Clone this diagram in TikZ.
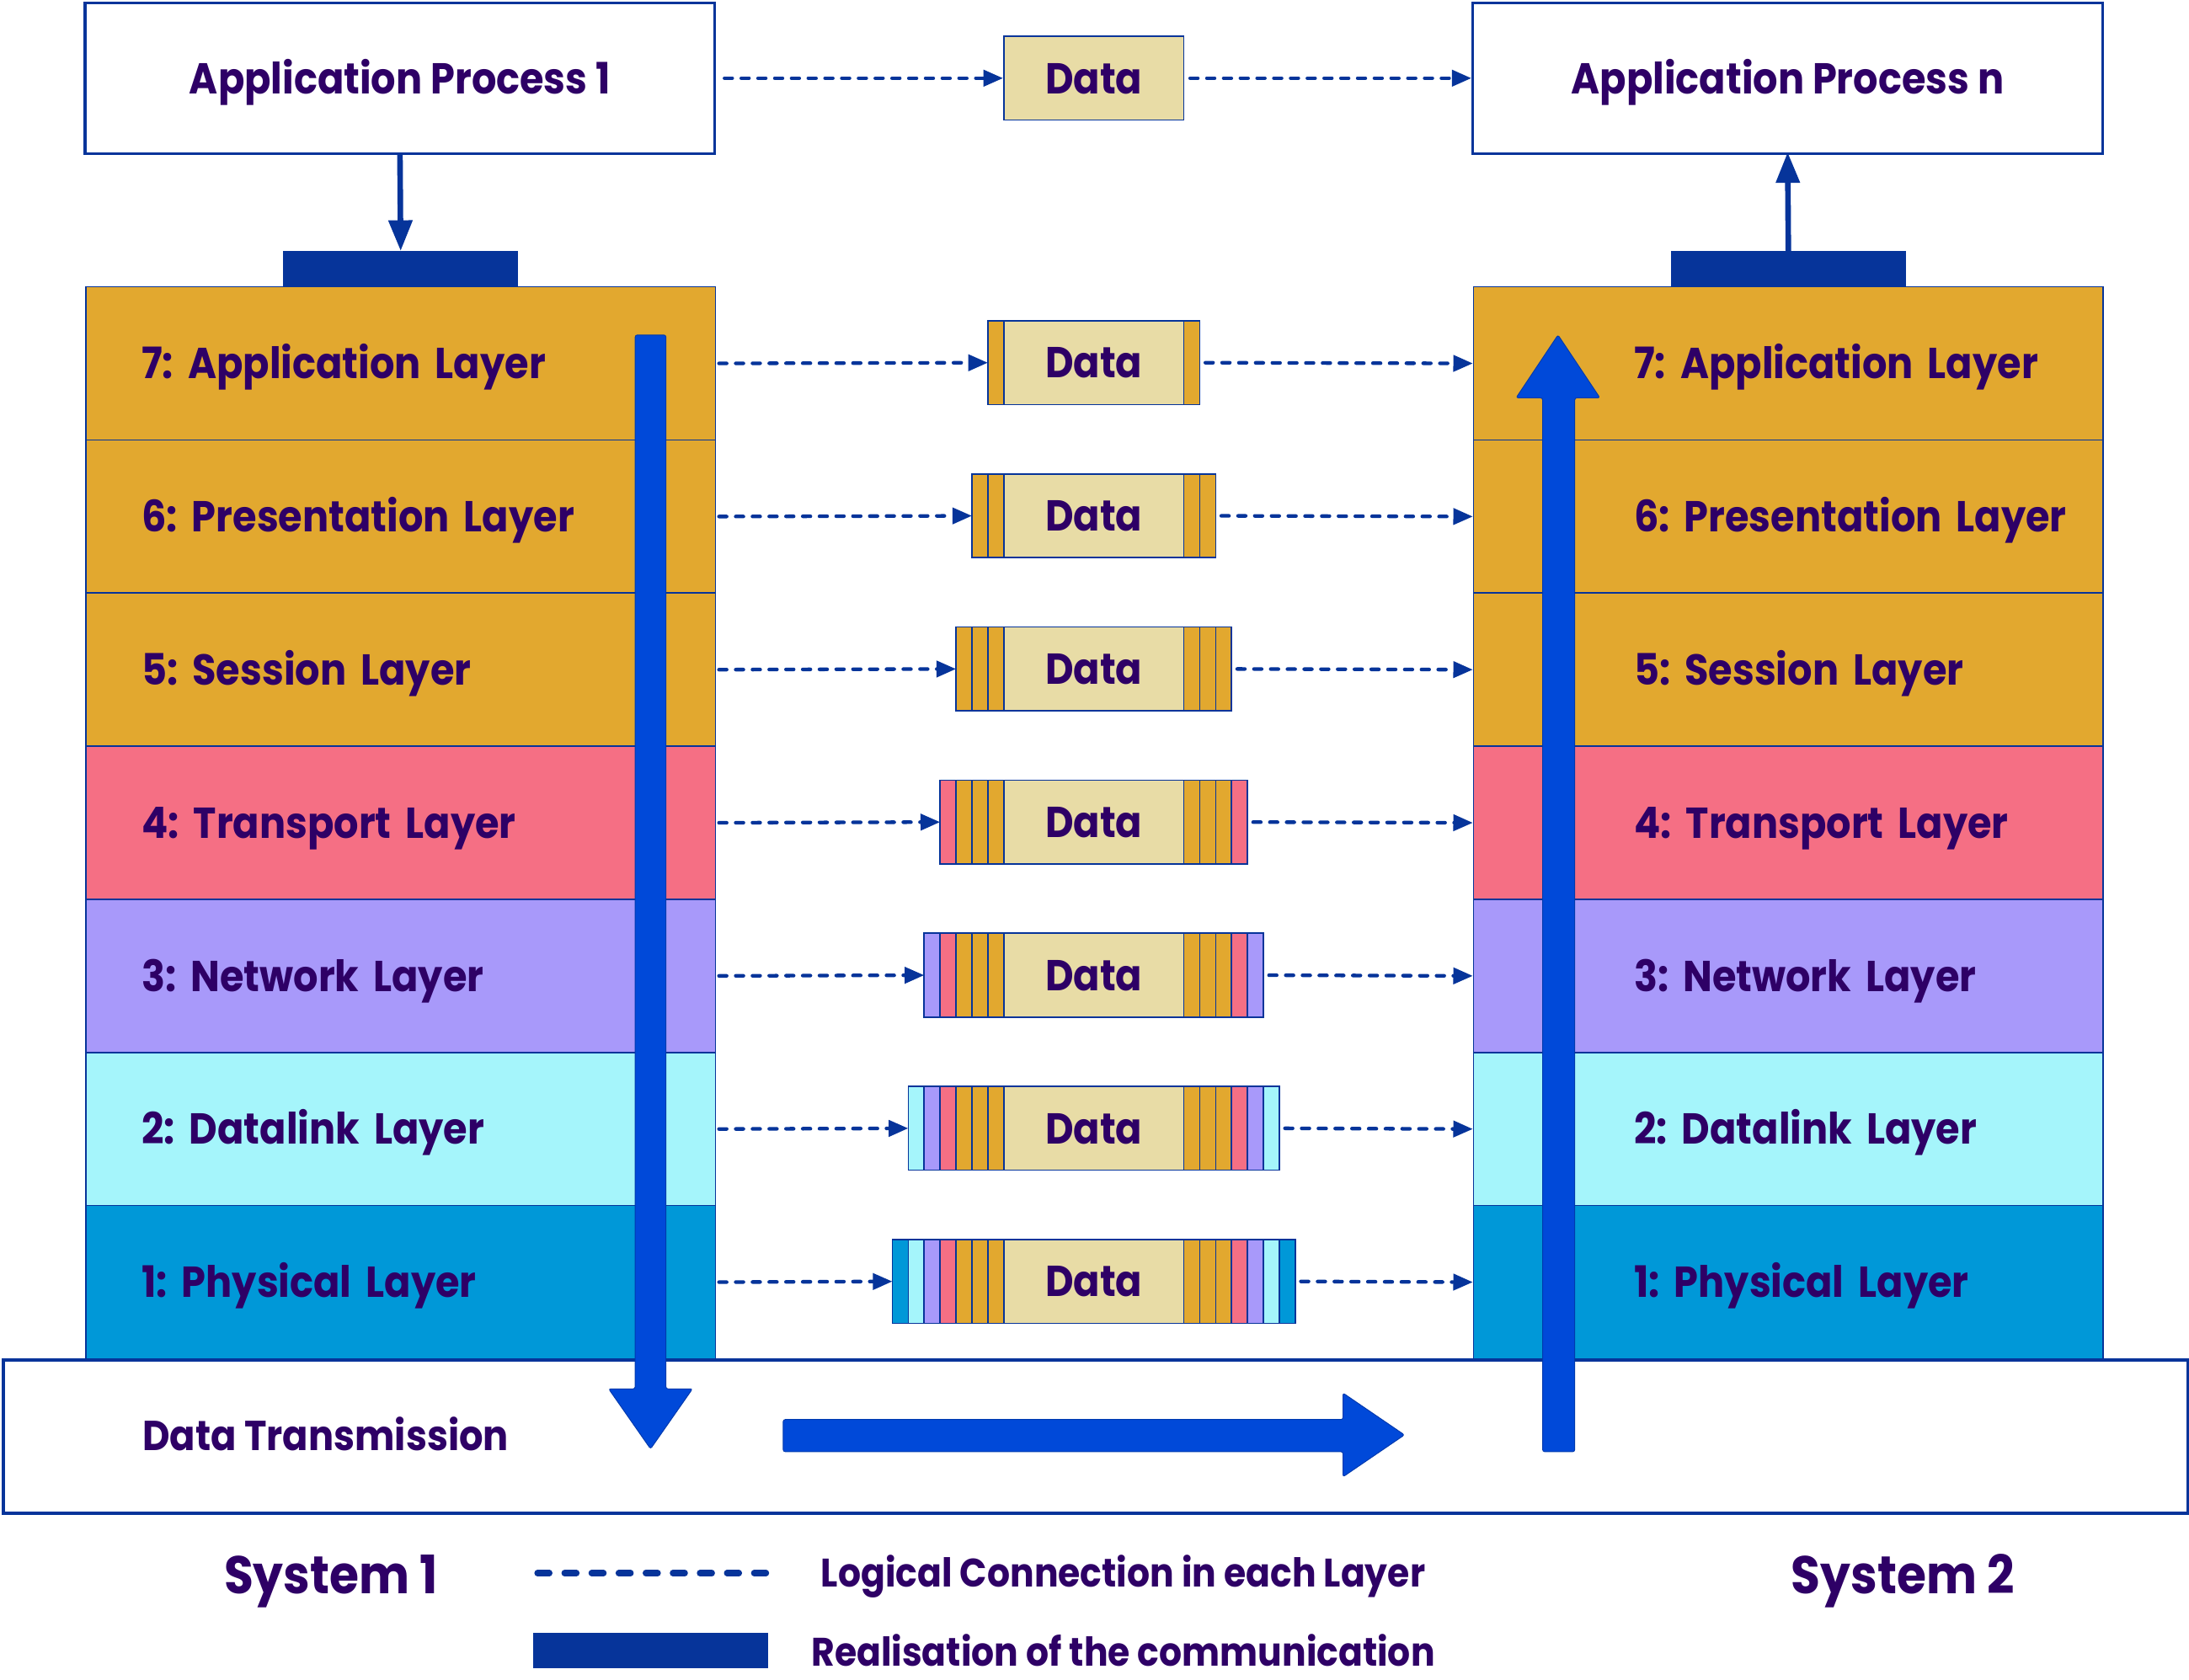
\documentclass[tikz,border=0pt]{standalone}
\usepackage{fontspec}
\setmainfont{Poppins}[FakeStretch=0.9]
\usetikzlibrary{arrows.meta}
\definecolor{lblue}{HTML}{06349A}
\definecolor{txt}{HTML}{2E0066}
\definecolor{orl}{HTML}{E2A82F}
\definecolor{pnk}{HTML}{F56F84}
\definecolor{lav}{HTML}{A899FA}
\definecolor{cyn}{HTML}{A5F5FB}
\definecolor{phy}{HTML}{0098D8}
\definecolor{wheat}{HTML}{E8DCA6}
\definecolor{bigblue}{HTML}{0049D9}
\frenchspacing
\begin{document}
\begin{tikzpicture}[x=1pt,y=-1pt,
  every node/.style={text=txt},
  mainfont/.style={font=\fontsize{31}{36}\selectfont\bfseries,text height=22,text depth=0},
  layerbox/.style={mainfont,draw=lblue,line width=1,minimum width=451,minimum height=109.7,
    text width=451,inner xsep=0,inner ysep=0,align=left,anchor=north west},
  procbox/.style={mainfont,draw=lblue,line width=2,fill=white,minimum width=451,minimum height=108,inner sep=0},
  datab/.style={mainfont,draw=lblue,fill=wheat,line width=1,minimum width=129,minimum height=60,inner sep=0},
  stripe/.style={draw=lblue,line width=1},
  logic/.style={draw=lblue,line width=2.6,line cap=round,dash pattern=on 5.5 off 6.5,
    -{Triangle[length=14,width=11.5]}},
  legdash/.style={draw=lblue,line width=4.5,line cap=round,dash pattern=on 8.5 off 10.9},
  procarrow/.style={draw=lblue,line width=4,-{Triangle[length=22,width=16.5]}},
  bar/.style={fill=lblue,minimum width=168,minimum height=25,inner sep=0},
  bigarrow/.style={fill=bigblue,draw=bigblue!80!black,line width=0.6,rounded corners=1.5},
  legtext/.style={font=\fontsize{28.5}{32}\selectfont\bfseries,anchor=west,inner sep=0,text height=19.5,text depth=0},
  systext/.style={font=\fontsize{38}{44}\selectfont\bfseries,inner sep=0,text height=27,text depth=0}]
\useasboundingbox (0,0) rectangle (1568,1203);
\fill[white] (0,0) rectangle (1568,1203);

% application processes
\node[procbox] (AP1) at (286.5,56) {Application Process 1};
\node[procbox] (APn) at (1280.5,56) {Application Process n};
\node[datab] (D0) at (783.5,56) {Data};
\draw[logic] ([xshift=6]AP1.east) -- (D0.west);
\draw[logic] ([xshift=4]D0.east) -- (APn.west);

% bars
\node[bar] (bar1) at (287,192.5) {};
\node[bar] (bar2) at (1281,192.5) {};
\draw[procarrow] (AP1.south) -- (bar1.north);
\draw[procarrow] (bar2.north) -- ([yshift=2]APn.south);

% layer stacks
\foreach \n/\lab/\c in {7/Application/orl,6/Presentation/orl,5/Session/orl,4/Transport/pnk,3/Network/lav,2/Datalink/cyn,1/Physical/phy}{
  \pgfmathsetmacro\top{205+109.7*(7-\n)}
  \node[layerbox,fill=\c] (L\n) at (61,\top) {\hspace*{40pt}\n: \lab\ Layer};
  \node[layerbox,fill=\c] (R\n) at (1055,\top) {\hspace*{115pt}\n: \lab\ Layer};
}

% packets
\foreach \n in {7,6,5,4,3,2,1}{
  \pgfmathsetmacro\y{259.85+109.7*(7-\n)}
  \pgfmathtruncatemacro\k{8-\n}
  \node[datab] (D\n) at (783.5,\y) {Data};
  \foreach \i/\c in {1/orl,2/orl,3/orl,4/pnk,5/lav,6/cyn,7/phy}{
    \ifnum\i>\k\relax\else
      \draw[stripe,fill=\c] ({719-11.4*\i},{\y-30}) rectangle ({719-11.4*(\i-1)},{\y+30});
      \draw[stripe,fill=\c] ({848+11.4*(\i-1)},{\y-30}) rectangle ({848+11.4*\i},{\y+30});
    \fi
  }
  \coordinate (PL\n) at ({719-11.4*\k},\y);
  \coordinate (PR\n) at ({848+11.4*\k+4},\y);
  \draw[logic] ([xshift=2]L\n.east) -- (PL\n);
  \draw[logic] (PR\n) -- (R\n.west);
}

% data transmission
\node[draw=lblue,line width=2.5,fill=white,minimum width=1565,minimum height=110,inner sep=0,anchor=north west] (DT) at (1,973) {};
\node[mainfont,font=\fontsize{30}{36}\selectfont\bfseries,anchor=west,inner sep=0] (DTt) at (102,1028) {Data Transmission};

% big arrows
\draw[bigarrow] (455,240) -- (477,240) -- (477,995) -- (496,995) -- (466,1038) -- (436,995) -- (455,995) -- cycle;
\draw[bigarrow] (561,1017) -- (962,1017) -- (962,998) -- (1006,1028) -- (962,1058) -- (962,1040) -- (561,1040) -- cycle;
\draw[bigarrow] (1105,1040) -- (1105,285) -- (1086,285) -- (1116,240) -- (1146,285) -- (1128,285) -- (1128,1040) -- cycle;

% legend
\node[systext] (S1) at (237,1128) {System 1};
\node[systext] (S2) at (1363,1128) {System 2};
\coordinate (lg1) at (385,1127);
\coordinate (lg2) at (549,1127);
\draw[legdash] (lg1) -- (lg2);
\node[fill=lblue,minimum width=168,minimum height=25,inner sep=0] (lgbar) at (466,1182.5) {};
\node[legtext] (lgt1) at (588,1127) {Logical Connection in each Layer};
\node[legtext] (lgt2) at (581,1184) {Realisation of the communication};
\end{tikzpicture}
\end{document}
